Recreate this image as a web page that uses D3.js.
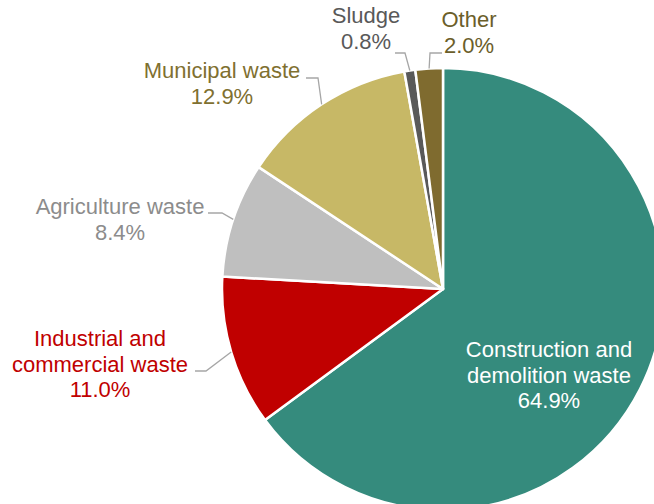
<!DOCTYPE html>
<html>
<head>
<meta charset="utf-8">
<style>
    body { margin: 0; background: #fff; }
    svg { display: block; font-family: "Liberation Sans", Arial, sans-serif; }
    .lbl { font-size: 22px; }
    .leader { fill: none; stroke: #a6a6a6; stroke-width: 1.3px; }
</style>
</head>
<body>
<svg width="654" height="504"></svg>

<script src="https://d3js.org/d3.v7.min.js"></script>
<script>
    // data, clockwise from 12 o'clock
    const categories = ["Construction and demolition waste", "Industrial and commercial waste",
        "Agriculture waste", "Municipal waste", "Sludge", "Other"];
    const shares = [64.9, 11.0, 8.4, 12.9, 0.8, 2.0];
    const sliceColors = ["#358b7d", "#c00000", "#bfbfbf", "#c7b866", "#595959", "#7f6b2f"];
    const labelColors = ["#ffffff", "#c00000", "#8c8c8c", "#7f7030", "#595959", "#6b5e2a"];

    // how each category name is wrapped
    const nameLines = [
        ["Construction and", "demolition waste"],
        ["Industrial and", "commercial waste"],
        ["Agriculture waste"],
        ["Municipal waste"],
        ["Sludge"],
        ["Other"]
    ];

    // layout: text centre x, first baseline y, leader elbow & start (null = inside)
    const layout = [
        { x: 549, y: 357, elbow: null },
        { x: 100, y: 346, elbow: [206, 371], start: 195 },
        { x: 120, y: 214, elbow: [222, 213], start: 208 },
        { x: 222, y: 78, elbow: [318, 78], start: 306 },
        { x: 366, y: 23, elbow: [405, 53], start: 395 },
        { x: 469, y: 27, elbow: [430, 53], start: 442 }
    ];

    let cx = 443, cy = 289, radius = 221;
    let lineGap = 25.5;

    let svg = d3.select("svg");
    let g = svg.append("g").attr("transform", `translate(${cx},${cy})`);

    let rows = categories.map((c, i) => ({ name: c, value: shares[i], i: i }));

    let pie = d3.pie().sort(null).value(d => d.value);
    let arcs = pie(rows);

    let arc = d3.arc().innerRadius(0).outerRadius(radius);
    let edge = d3.arc().innerRadius(radius).outerRadius(radius);

    g.selectAll(".slice")
        .data(arcs)
        .join("path")
        .attr("class", "slice")
        .attr("d", arc)
        .style("fill", d => sliceColors[d.data.i])
        .style("stroke", "#fff")
        .style("stroke-width", "2.5px")
        .style("stroke-linejoin", "round");

    // leader lines
    svg.selectAll(".leader")
        .data(arcs.filter(d => layout[d.data.i].elbow))
        .join("polyline")
        .attr("class", "leader")
        .attr("points", d => {
            let L = layout[d.data.i];
            let p = edge.centroid(d);
            return [[L.start, L.elbow[1]], L.elbow, [p[0] + cx, p[1] + cy]]
                .map(q => q.join(",")).join(" ");
        });

    // labels
    let fmt = d3.format(".1f");
    let labels = svg.selectAll(".lbl")
        .data(arcs)
        .join("text")
        .attr("class", "lbl")
        .attr("text-anchor", "middle")
        .style("fill", d => labelColors[d.data.i]);

    labels.each(function (d) {
        let L = layout[d.data.i];
        let lines = nameLines[d.data.i].concat([fmt(d.data.value) + "%"]);
        d3.select(this).selectAll("tspan")
            .data(lines)
            .join("tspan")
            .attr("x", L.x)
            .attr("y", (t, k) => L.y + k * lineGap)
            .text(t => t);
    });
</script>
</body>
</html>
